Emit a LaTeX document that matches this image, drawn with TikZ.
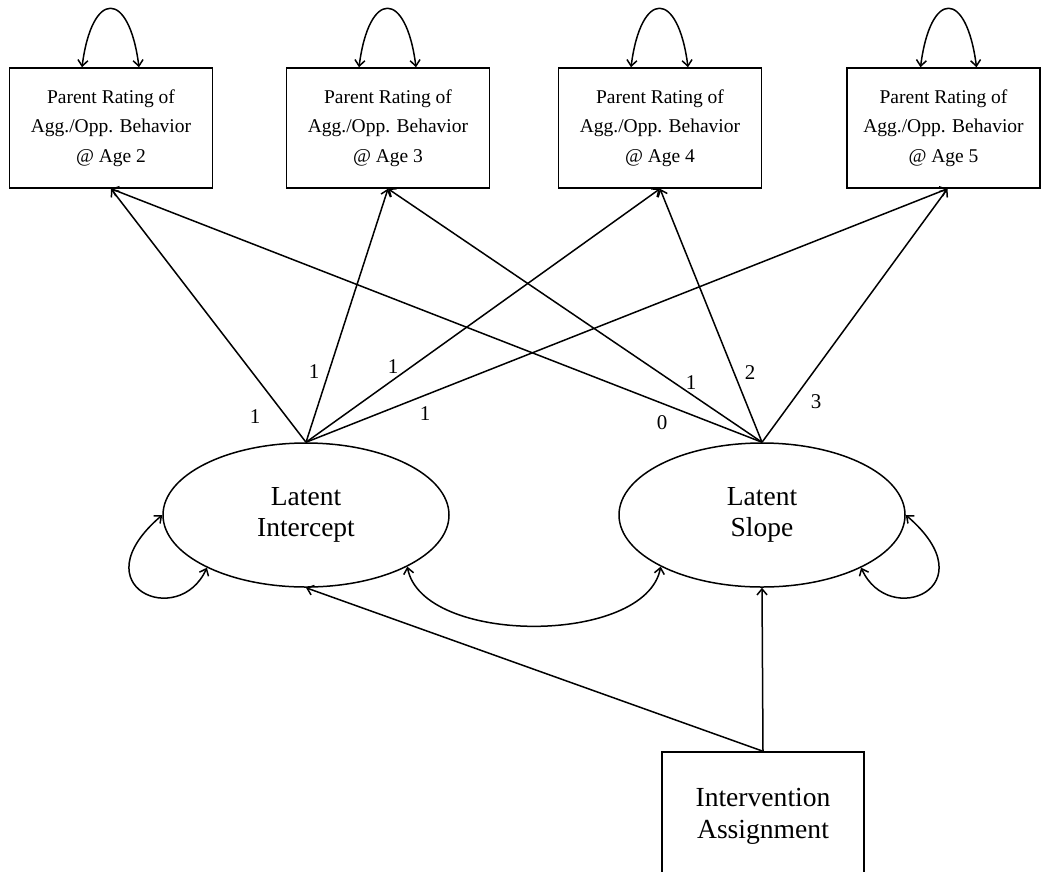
\documentclass[tikz,border=0pt]{standalone}
\usepackage{fontspec}
\setmainfont{Liberation Serif}
\usetikzlibrary{arrows.meta,shapes.geometric,calc}
\begin{document}
\begin{tikzpicture}[x=1pt,y=-1pt, line width=1.5pt,
  obs/.style={draw, rectangle, minimum width=203pt, minimum height=120pt, inner sep=0pt, align=center, font=\fontsize{19.5}{29.5}\selectfont},
  lat/.style={draw, ellipse, minimum width=286pt, minimum height=144pt, inner sep=0pt, align=center, font=\fontsize{27.5}{31}\selectfont},
  tip/.tip={Straight Barb[length=6pt,width=10pt]},
  arr/.style={-tip},
  dbl/.style={tip-tip},
  lbl/.style={font=\fontsize{21}{21}\selectfont, inner sep=0pt}]
\useasboundingbox (0,0) rectangle (1041,871);

% observed boxes
\node[obs] (b1) at (111,128) {Parent Rating of\\Agg./Opp. Behavior\\@ Age 2};
\node[obs] (b2) at (388,128) {Parent Rating of\\Agg./Opp. Behavior\\@ Age 3};
\node[obs] (b3) at (660,128) {Parent Rating of\\Agg./Opp. Behavior\\@ Age 4};
\node[obs, minimum width=193pt] (b4) at (943.5,128) {Parent Rating of\\Agg./Opp. Behavior\\@ Age 5};

% latent factors
\node[lat] (e1) at (306,515) {Latent\\Intercept};
\node[lat] (e2) at (762,515) {Latent\\Slope};

% intervention
\node[draw, rectangle, minimum width=202pt, minimum height=128pt, inner sep=0pt, align=center,
      font=\fontsize{27.6}{32}\selectfont] (iv) at (763,816) {Intervention\\Assignment};

% residual variances of boxes
\foreach \b in {b1,b2,b3}{
  \draw[dbl] ($(\b.north)+(-29,0)$) .. controls +(10,-78) and +(-10,-78) .. ($(\b.north)+(28,0)$);
}
\draw[dbl] ($(b4.north)+(-23,0)$) .. controls +(10,-78) and +(-10,-78) .. ($(b4.north)+(33,0)$);

% loadings
\draw[arr] (e1.north) -- (b1.south);
\draw[arr] (e1.north) -- (b2.south);
\draw[arr] (e1.north) -- (b3.south);
\draw[arr] (e1.north) -- ($(b4.south)+(4,0)$);
\draw[arr] (e2.north) -- (b1.south);
\draw[arr] (e2.north) -- (b2.south);
\draw[arr] (e2.north) -- (b3.south);
\draw[arr] (e2.north) -- ($(b4.south)+(4,0)$);

% loading labels
\node[lbl] (l1) at (255,417) {1};
\node[lbl] (l2) at (314,372) {1};
\node[lbl] (l3) at (393,367) {1};
\node[lbl] (l4) at (425,414) {1};
\node[lbl] (s0) at (662,423) {0};
\node[lbl] (s1) at (691,383) {1};
\node[lbl] (s2) at (750,373) {2};
\node[lbl] (s3) at (816,402) {3};

% latent variances
\draw[dbl] (e1.-152) .. controls +(-28,62) and +(-84,72) .. (e1.west);
\draw[dbl] (e2.-28) .. controls +(28,62) and +(84,72) .. (e2.east);

% covariance
\draw[dbl] (e1.-27) .. controls +(15,79) and +(-15,79) .. (e2.-153);

% intervention effects
\draw[arr] (iv.north) -- (e1.south);
\draw[arr] (iv.north) -- (e2.south);
\end{tikzpicture}
\end{document}
